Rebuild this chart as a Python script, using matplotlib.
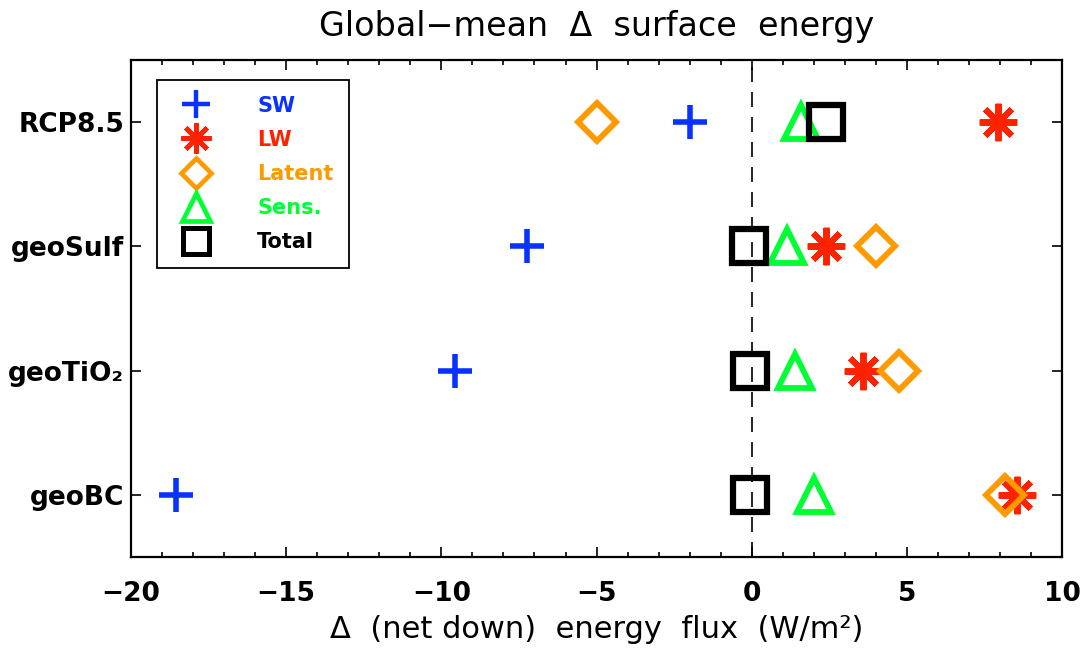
import matplotlib.pyplot as plt
from matplotlib.lines import Line2D
from matplotlib.ticker import MultipleLocator

plt.rcParams['font.family'] = ['DejaVu Sans']
plt.rcParams['axes.unicode_minus'] = True

# Scenarios, top to bottom
scenarios = ['RCP8.5', 'geoSulf', 'geoTiO₂', 'geoBC']

# Delta surface energy flux components (W/m2)
sw = [-2.0, -7.25, -9.55, -18.55]
lw = [7.95, 2.4, 3.6, 8.55]
latent = [-5.0, 4.0, 4.75, 8.15]
sens = [1.6, 1.15, 1.4, 2.0]
total = [2.4, -0.1, -0.05, -0.05]

# Plot styles for each component
comp_names = ['SW', 'LW', 'Latent', 'Sens.', 'Total']
comp_values = [sw, lw, latent, sens, total]
comp_colors = ['#0a32ff', '#ff2200', '#ff9900', '#00ff33', '#000000']
comp_markers = ['+', (8, 2, 0), 'D', '^', 's']
comp_sizes = [25, 27, 19, 25, 24]
comp_mew = [4.0, 4.3, 4.2, 4.2, 4.5]

fig, ax = plt.subplots(figsize=(10.86, 6.48), dpi=100)
fig.subplots_adjust(left=0.1206, right=0.978, bottom=0.1404, top=0.9074)

# Zero line
ax.axvline(0, color='black', linestyle=(0, (9, 6)), linewidth=1.2, zorder=1)

# Markers
for name, vals, col, mk, ms, mew in zip(comp_names, comp_values, comp_colors,
                                        comp_markers, comp_sizes, comp_mew):
    ax.plot(vals, scenarios, linestyle='none', marker=mk, markersize=ms,
            markerfacecolor='none', markeredgecolor=col, markeredgewidth=mew,
            zorder=3)

ax.set_xlim(-20, 10)
ax.set_ylim(3.5, -0.5)
ax.xaxis.set_major_locator(MultipleLocator(5))
ax.xaxis.set_minor_locator(MultipleLocator(1))

ax.tick_params(axis='x', which='major', direction='in', length=7, width=1.2,
               top=True, labelsize=19, pad=17)
ax.tick_params(axis='x', which='minor', direction='in', length=3.5, width=1.2,
               top=True)
ax.tick_params(axis='y', which='major', direction='in', length=7, width=1.2,
               right=True, labelsize=19, pad=5)
for lbl in ax.get_yticklabels() + ax.get_xticklabels():
    lbl.set_fontweight('bold')

for sp in ax.spines.values():
    sp.set_linewidth(1.6)

ax.set_title('Global−mean  Δ  surface  energy', fontsize=24, pad=17)
ax.set_xlabel('Δ  (net down)  energy  flux  (W/m²)', fontsize=22, labelpad=6)

# Legend with smaller markers
handles = []
for name, col, mk, ms, mew in zip(comp_names, comp_colors, comp_markers,
                                  comp_sizes, comp_mew):
    handles.append(Line2D([], [], linestyle='none', marker=mk, markersize=ms * 0.8,
                          markerfacecolor='none', markeredgecolor=col,
                          markeredgewidth=mew * 0.8, label=name))
leg = ax.legend(handles=handles, loc='upper left', bbox_to_anchor=(0.028, 0.96),
                frameon=True, fancybox=False, framealpha=1,
                edgecolor='black', labelcolor='markeredgecolor',
                prop={'weight': 'bold', 'size': 15}, handlelength=2.25,
                handletextpad=1.8, labelspacing=0.68, borderpad=0.75,
                borderaxespad=0)
leg.get_frame().set_linewidth(1.3)

fig.savefig('out.png', dpi=100)
